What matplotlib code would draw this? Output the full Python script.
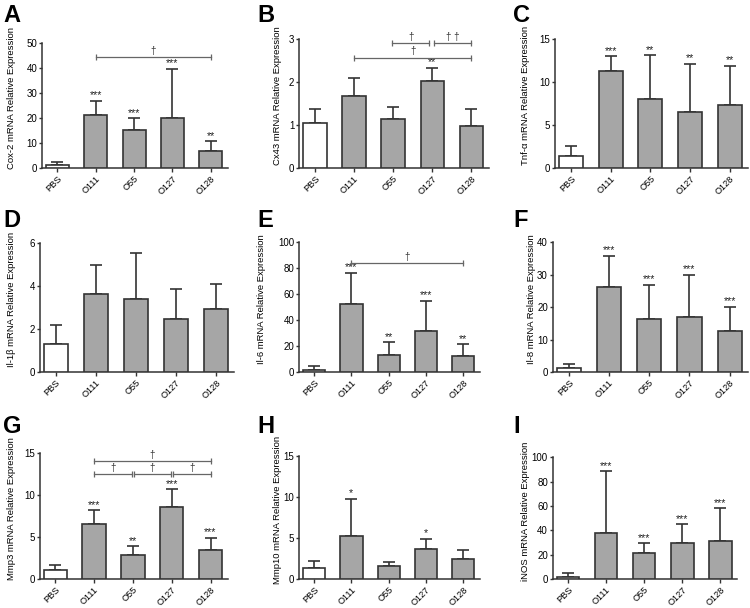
import matplotlib.pyplot as plt
import matplotlib.transforms as mtransforms
import numpy as np

plt.rcParams['font.family'] = ['Liberation Sans', 'DejaVu Sans']

# grupos
grupos = ['PBS', 'O111', 'O55', 'O127', 'O128']

# medias e barras de erro (so para cima)
cox2 = [1.3, 21.1, 15.4, 20.0, 6.8]
cox2_err = [1.0, 5.9, 4.6, 19.7, 3.9]
cx43 = [1.05, 1.67, 1.13, 2.03, 0.97]
cx43_err = [0.32, 0.43, 0.30, 0.30, 0.40]
tnf = [1.4, 11.3, 8.0, 6.5, 7.3]
tnf_err = [1.2, 1.7, 5.1, 5.6, 4.6]
il1b = [1.3, 3.62, 3.38, 2.45, 2.95]
il1b_err = [0.9, 1.36, 2.15, 1.43, 1.15]
il6 = [1.6, 52.0, 13.5, 31.5, 12.0]
il6_err = [2.9, 24.5, 9.5, 23.5, 9.5]
il8 = [1.4, 26.2, 16.4, 17.0, 12.6]
il8_err = [1.1, 9.6, 10.4, 12.9, 7.5]
mmp3 = [1.1, 6.6, 2.9, 8.6, 3.4]
mmp3_err = [0.6, 1.6, 1.0, 2.1, 1.5]
mmp10 = [1.3, 5.2, 1.6, 3.7, 2.4]
mmp10_err = [0.9, 4.6, 0.5, 1.2, 1.1]
inos = [2.0, 38.0, 21.5, 29.5, 31.5]
inos_err = [3.0, 50.5, 8.0, 15.5, 26.5]

# asteriscos
cox2_st = ['', '***', '***', '***', '**']
cx43_st = ['', '', '', '**', '']
tnf_st = ['', '***', '**', '**', '**']
il1b_st = ['', '', '', '', '']
il6_st = ['', '***', '**', '***', '**']
il8_st = ['', '***', '***', '***', '***']
mmp3_st = ['', '***', '**', '***', '***']
mmp10_st = ['', '*', '', '*', '']
inos_st = ['', '***', '***', '***', '***']

# colchetes (i, j, y, texto)
cox2_br = [(1, 4, 44.5, '†')]
cx43_br = [(1, 4, 2.57, '†'), (1.97, 2.92, 2.91, '†'),
           (3.05, 4, 2.91, '† †')]
il6_br = [(1, 4, 84.0, '†')]
mmp3_br = [(1, 4, 14.05, '†'), (1, 1.97, 12.5, '†'),
           (2.03, 2.97, 12.5, '†'), (3.03, 4, 12.5, '†')]

paineis = [
    ('A', 'Cox-2', cox2, cox2_err, cox2_st, cox2_br, 50, 10,
     [0.056, 0.7237, 0.248, 0.205]),
    ('B', 'Cx43', cx43, cx43_err, cx43_st, cx43_br, 3, 1,
     [0.399, 0.7237, 0.253, 0.212]),
    ('C', 'Tnf-α', tnf, tnf_err, tnf_st, [], 15, 5,
     [0.740, 0.7237, 0.257, 0.212]),
    ('D', 'Il-1β', il1b, il1b_err, il1b_st, [], 6, 2,
     [0.053, 0.388, 0.259, 0.212]),
    ('E', 'Il-6', il6, il6_err, il6_st, il6_br, 100, 20,
     [0.399, 0.388, 0.241, 0.214]),
    ('F', 'Il-8', il8, il8_err, il8_st, [], 40, 10,
     [0.737, 0.388, 0.260, 0.214]),
    ('G', 'Mmp3', mmp3, mmp3_err, mmp3_st, mmp3_br, 15, 5,
     [0.053, 0.0477, 0.251, 0.207]),
    ('H', 'Mmp10', mmp10, mmp10_err, mmp10_st, [], 15, 5,
     [0.399, 0.0477, 0.241, 0.202]),
    ('I', 'iNOS', inos, inos_err, inos_st, [], 100, 20,
     [0.737, 0.0477, 0.246, 0.200]),
]

# posicao das letras (fracao da figura)
letra_x = [0.004, 0.343, 0.684]
letra_y = [0.994, 0.656, 0.318]
# centro do rotulo y em pixels (x)
ylab_px = [12, 278, 526, 12, 262, 532, 12, 278, 526]

cor_borda = '#333333'
cor_cinza = '#a6a6a6'

fig = plt.figure(figsize=(7.5, 6.08), dpi=100)

for k, (letra, gene, vals, errs, stars, brs, ymax, ystep, pos) in \
        enumerate(paineis):
    ax = fig.add_axes(pos)
    x = np.arange(len(grupos))
    cores = ['white'] + [cor_cinza] * (len(grupos) - 1)
    ax.bar(x, vals, width=0.6, color=cores, edgecolor=cor_borda,
           linewidth=1.2, zorder=3)
    ax.errorbar(x, vals, yerr=[np.zeros(len(vals)), errs], fmt='none',
                ecolor=cor_borda, elinewidth=1.2, capsize=4, capthick=1.2,
                zorder=2)
    for xi, v, e, s in zip(x, vals, errs, stars):
        if s:
            ax.text(xi, v + e + ymax * 0.004, s, ha='center', va='bottom',
                    fontsize=7.8, color='#222222')
    for i, j, yb, txt in brs:
        ax.plot([i, j], [yb, yb], color='#666666', lw=0.9, marker='|',
                markersize=4, markeredgewidth=0.9, zorder=4, clip_on=False)
        ax.text((i + j) / 2, yb + ymax * 0.01, txt, ha='center',
                va='bottom', fontsize=7, color='#333333')

    ax.set_xlim(-0.4, 4.45)
    ax.set_ylim(0, ymax)
    ax.set_yticks(np.arange(0, ymax + ystep / 2, ystep))
    ax.set_xticks(x)
    ax.set_xticklabels(grupos, rotation=45, ha='right',
                       rotation_mode='anchor')
    ax.tick_params(axis='both', length=3, width=1, color=cor_borda)
    ax.tick_params(axis='y', labelsize=7, length=2.5, pad=1)
    ax.tick_params(axis='x', labelsize=6.6, pad=1.5)
    for lado in ['top', 'right']:
        ax.spines[lado].set_visible(False)
    for lado in ['left', 'bottom']:
        ax.spines[lado].set_linewidth(1.1)
        ax.spines[lado].set_color(cor_borda)
    ax.set_ylabel('{} mRNA Relative Expression'.format(gene), fontsize=6.8,
                  va='center')
    trans = mtransforms.blended_transform_factory(fig.transFigure,
                                                  ax.transAxes)
    ax.yaxis.set_label_coords(ylab_px[k] / 750, 0.56, transform=trans)
    fig.text(letra_x[k % 3], letra_y[k // 3], letra, fontsize=17,
             fontweight='bold', ha='left', va='top')

fig.savefig('out.png', dpi=100)
